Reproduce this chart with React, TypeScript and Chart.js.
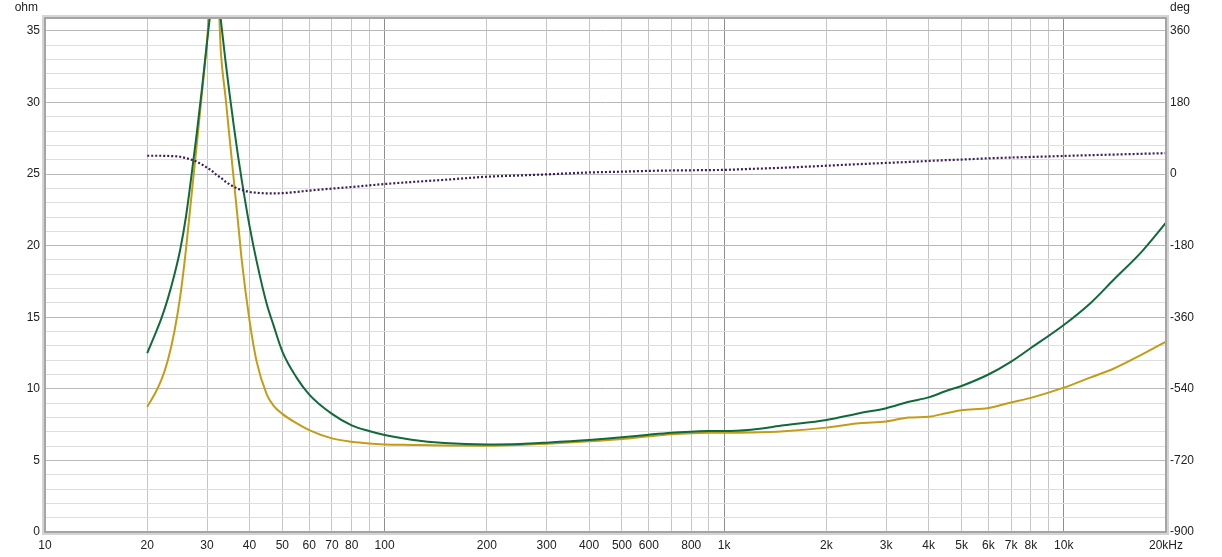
import React, { useEffect, useRef } from "react";
import { Chart, registerables } from "chart.js";

Chart.register(...registerables);

// ---- data ----
const freqs = [20, 21, 22, 23, 24, 25, 26, 27, 28, 29, 30, 31, 32, 33, 34, 35, 36, 37, 38, 40, 42, 45, 47, 50, 55, 60, 70, 80, 90, 100, 120, 150, 200, 250, 300, 400, 500, 600, 700, 800, 900, 1000, 1200, 1500, 2000, 2500, 3000, 3500, 4000, 4500, 5000, 6000, 7000, 8000, 10000, 12000, 14000, 17000, 20000];

const greenOhm = [12.5, 13.7, 14.9, 16.3, 17.9, 19.7, 22.0, 24.9, 27.9, 31.0, 34.2, 37.0, 38.2, 35.6, 32.9, 30.5, 28.3, 26.3, 24.5, 21.4, 18.9, 15.9, 14.5, 12.6, 10.8, 9.6, 8.25, 7.45, 7.05, 6.77, 6.45, 6.22, 6.12, 6.15, 6.24, 6.42, 6.61, 6.8, 6.94, 7.01, 7.05, 7.05, 7.15, 7.45, 7.82, 8.3, 8.65, 9.1, 9.4, 9.85, 10.2, 11.0, 11.9, 12.85, 14.46, 16.0, 17.6, 19.6, 21.6];

const goldOhm = [8.75, 9.6, 10.6, 12.0, 13.9, 16.4, 19.7, 23.5, 27.1, 30.7, 34.3, 38.6, 39.4, 33.3, 30.4, 27.4, 24.5, 21.7, 18.9, 14.8, 11.9, 9.6, 8.85, 8.25, 7.6, 7.12, 6.54, 6.3, 6.18, 6.12, 6.08, 6.04, 6.03, 6.08, 6.17, 6.33, 6.49, 6.68, 6.82, 6.9, 6.93, 6.93, 6.95, 7.04, 7.29, 7.6, 7.72, 8.0, 8.05, 8.3, 8.5, 8.66, 9.05, 9.37, 10.08, 10.8, 11.4, 12.4, 13.3];

const phaseDeg = [46, 46, 46, 45.5, 45, 43.5, 40, 36, 31, 24, 16, 8, -2, -10, -19, -26, -32, -37, -40, -45, -47, -48.5, -48.5, -48, -45, -41.5, -36.5, -32.5, -28.5, -25, -20, -14.5, -6.7, -3.5, -0.8, 4, 6, 8, 9, 9.5, 10, 10.5, 13, 16, 21, 25, 28, 30.5, 33, 35, 36.5, 39.5, 41.5, 43, 45.5, 47.5, 49, 51, 52.5];

const xGridFreqs = [10, 20, 30, 40, 50, 60, 70, 80, 90, 100, 200, 300, 400, 500, 600, 700, 800, 900, 1000, 2000, 3000, 4000, 5000, 6000, 7000, 8000, 9000, 10000, 20000];
const xLabelFreqs = [10, 20, 30, 40, 50, 60, 70, 80, 100, 200, 300, 400, 500, 600, 800, 1000, 2000, 3000, 4000, 5000, 6000, 7000, 8000, 10000, 20000];
const xLabelTexts = ["10", "20", "30", "40", "50", "60", "70", "80", "100", "200", "300", "400", "500", "600", "800", "1k", "2k", "3k", "4k", "5k", "6k", "7k", "8k", "10k", "20kHz"];
const decadeFreqs = [10, 100, 1000, 10000];

const ohmGrid = [0, 1, 2, 3, 4, 5, 6, 7, 8, 9, 10, 11, 12, 13, 14, 15, 16, 17, 18, 19, 20, 21, 22, 23, 24, 25, 26, 27, 28, 29, 30, 31, 32, 33, 34, 35];
const degTicks = [-900, -720, -540, -360, -180, 0, 180, 360];

const OHM_MAX = 35.9;
const DEG_MIN = -900;
const DEG_PER_OHM = 36;

const FONT = { family: "'Liberation Sans', Arial, sans-serif", size: 12 };
const TEXT = "#222222";

const framePlugin = {
  id: "frame",
  afterDraw(chart: any) {
    const { ctx, chartArea: a } = chart;
    ctx.save();
    ctx.strokeStyle = "#d4d4d4";
    ctx.lineWidth = 4;
    ctx.strokeRect(a.left - 1, a.top - 1, a.right - a.left + 2, a.bottom - a.top + 2);
    ctx.strokeStyle = "#959595";
    ctx.lineWidth = 1.5;
    ctx.strokeRect(a.left, a.top, a.right - a.left, a.bottom - a.top);
    ctx.font = "12px 'Liberation Sans', Arial, sans-serif";
    ctx.fillStyle = TEXT;
    ctx.textBaseline = "middle";
    ctx.textAlign = "right";
    ctx.fillText("ohm", a.left - 7, 8);
    ctx.textAlign = "left";
    ctx.fillText("deg", a.right + 4, 8);
    ctx.restore();
  },
};

export default function App() {
  const ref = useRef<HTMLCanvasElement | null>(null);

  useEffect(() => {
    if (!ref.current) return;
    const mk = (vals: number[]) => freqs.map((f, i) => ({ x: f, y: vals[i] }));
    const chart = new Chart(ref.current, {
      type: "line",
      data: {
        datasets: [
          {
            label: "phase",
            data: mk(phaseDeg),
            yAxisID: "y2",
            borderColor: "#3a1d5c",
            borderWidth: 2.2,
            borderDash: [2, 2],
            pointRadius: 0,
            cubicInterpolationMode: "monotone",
            order: 0,
          },
          {
            label: "green",
            data: mk(greenOhm),
            yAxisID: "y",
            borderColor: "#106a3a",
            borderWidth: 2,
            pointRadius: 0,
            cubicInterpolationMode: "monotone",
            order: 1,
          },
          {
            label: "gold",
            data: mk(goldOhm),
            yAxisID: "y",
            borderColor: "#c49c16",
            borderWidth: 2,
            pointRadius: 0,
            cubicInterpolationMode: "monotone",
            order: 2,
          },
        ],
      },
      options: {
        responsive: false,
        animation: false,
        devicePixelRatio: 1,
        layout: { padding: { top: 18, left: 0, right: 0, bottom: 0 } },
        plugins: { legend: { display: false }, tooltip: { enabled: false } },
        scales: {
          x: {
            type: "logarithmic",
            min: 10,
            max: 20000,
            afterBuildTicks: (axis: any) => {
              axis.ticks = xGridFreqs.map((v) => ({ value: v }));
            },
            afterFit: (axis: any) => {
              axis.height = 25;
            },
            ticks: {
              autoSkip: false,
              maxRotation: 0,
              minRotation: 0,
              padding: 6,
              font: FONT,
              color: TEXT,
              callback: (v: any) => {
                const i = xLabelFreqs.indexOf(Number(v));
                return i >= 0 ? xLabelTexts[i] : "";
              },
            },
            grid: {
              drawTicks: false,
              lineWidth: 1,
              color: (c: any) => (decadeFreqs.includes(c.tick?.value) ? "#8e8e8e" : "#c6c6c6"),
            },
            border: { display: false },
          },
          y: {
            type: "linear",
            position: "left",
            min: 0,
            max: OHM_MAX,
            afterBuildTicks: (axis: any) => {
              axis.ticks = ohmGrid.map((v) => ({ value: v }));
            },
            afterFit: (axis: any) => {
              axis.width = 45;
            },
            ticks: {
              autoSkip: false,
              padding: 5,
              font: FONT,
              color: TEXT,
              callback: (v: any) => (Number(v) % 5 === 0 ? String(v) : ""),
            },
            grid: {
              drawTicks: false,
              lineWidth: 1,
              color: (c: any) => (c.tick && c.tick.value % 5 === 0 ? "#b8b8b8" : "#dedede"),
            },
            border: { display: false },
          },
          y2: {
            type: "linear",
            position: "right",
            min: DEG_MIN,
            max: DEG_MIN + OHM_MAX * DEG_PER_OHM,
            afterBuildTicks: (axis: any) => {
              axis.ticks = degTicks.map((v) => ({ value: v }));
            },
            afterFit: (axis: any) => {
              axis.width = 56;
            },
            ticks: {
              autoSkip: false,
              padding: 4,
              font: FONT,
              color: TEXT,
              callback: (v: any) => String(v),
            },
            grid: { display: false, drawTicks: false },
            border: { display: false },
          },
        },
      },
      plugins: [framePlugin],
    } as any);
    return () => chart.destroy();
  }, []);

  return (
    <div style={{ position: "fixed", left: 0, top: 0, width: 1222, height: 557, background: "#ffffff" }}>
      <canvas ref={ref} width={1222} height={557} style={{ display: "block" }} />
    </div>
  );
}
